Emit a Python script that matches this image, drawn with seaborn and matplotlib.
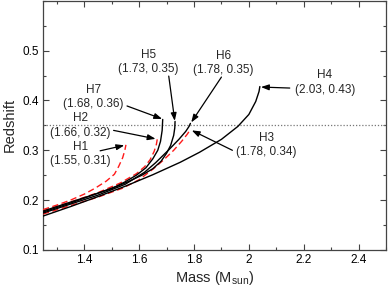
"""
Redshift vs mass for the H1-H7 models, with the end point of each track labelled.
"""
import matplotlib
matplotlib.use("Agg")
import matplotlib.pyplot as plt
import numpy as np
import pandas as pd
import seaborn as sns
from matplotlib.ticker import MultipleLocator

# ── Data (mass in M_sun, redshift) ───────────────────────────────────────
h1_mass = [1.25, 1.30, 1.35, 1.40, 1.44, 1.48, 1.51, 1.525, 1.54, 1.548, 1.552]
h1_z = [0.181, 0.190, 0.200, 0.212, 0.224, 0.238, 0.252, 0.267, 0.285, 0.300, 0.311]

h2_mass = [1.25, 1.35, 1.45, 1.53, 1.59, 1.62, 1.64, 1.655, 1.663, 1.666]
h2_z = [0.178, 0.196, 0.215, 0.234, 0.253, 0.267, 0.281, 0.298, 0.312, 0.322]

h3_mass = [1.25, 1.35, 1.45, 1.54, 1.60, 1.65, 1.69, 1.726, 1.755, 1.775, 1.786]
h3_z = [0.172, 0.189, 0.206, 0.224, 0.241, 0.262, 0.281, 0.300, 0.318, 0.332, 0.341]

h4_mass = [1.25, 1.35, 1.45, 1.55, 1.65, 1.75, 1.82, 1.90, 1.96, 2.00, 2.025, 2.037, 2.04]
h4_z = [0.168, 0.187, 0.207, 0.228, 0.251, 0.276, 0.296, 0.322, 0.348, 0.372, 0.398, 0.418, 0.428]

h5_mass = [1.25, 1.35, 1.45, 1.52, 1.56, 1.61, 1.65, 1.68, 1.70, 1.715, 1.726, 1.730, 1.731]
h5_z = [0.176, 0.194, 0.214, 0.228, 0.237, 0.250, 0.263, 0.278, 0.294, 0.310, 0.330, 0.345, 0.358]

h6_mass = [1.25, 1.35, 1.45, 1.55, 1.62, 1.66, 1.71, 1.745, 1.77, 1.782, 1.787]
h6_z = [0.174, 0.192, 0.210, 0.232, 0.256, 0.275, 0.302, 0.322, 0.338, 0.348, 0.354]

h7_mass = [1.25, 1.35, 1.44, 1.50, 1.55, 1.59, 1.625, 1.65, 1.668, 1.678, 1.684, 1.686]
h7_z = [0.178, 0.196, 0.212, 0.223, 0.237, 0.250, 0.265, 0.283, 0.300, 0.318, 0.340, 0.362]

model_names = ["H1", "H2", "H3", "H4", "H5", "H6", "H7"]
end_labels = ["(1.55, 0.31)", "(1.66, 0.32)", "(1.78, 0.34)", "(2.03, 0.43)",
              "(1.73, 0.35)", "(1.78, 0.35)", "(1.68, 0.36)"]
z_threshold = 0.35

# ── Layout: label centres and arrow tails/heads (data coords) ─────────────
label_pos = {
    "H1": (1.385, 0.292), "H2": (1.385, 0.350), "H3": (2.065, 0.311),
    "H4": (2.277, 0.436), "H5": (1.634, 0.478), "H6": (1.908, 0.476),
    "H7": (1.433, 0.407),
}
arrow_pos = {
    "H1": ((1.458, 0.299), (1.546, 0.310)),
    "H2": ((1.507, 0.340), (1.660, 0.323)),
    "H3": ((1.940, 0.300), (1.792, 0.340)),
    "H4": ((2.149, 0.425), (2.044, 0.427)),
    "H5": ((1.708, 0.449), (1.730, 0.359)),
    "H6": ((1.900, 0.447), (1.790, 0.356)),
    "H7": ((1.556, 0.389), (1.684, 0.363)),
}

sns.set_style("ticks")
plt.rcParams.update({
    "font.family": ["Liberation Sans", "DejaVu Sans"],
    "font.size": 8.5,
    "axes.linewidth": 0.9,
    "axes.edgecolor": "#444444",
    "xtick.color": "#444444",
    "ytick.color": "#444444",
    "xtick.labelcolor": "black",
    "ytick.labelcolor": "black",
})

curves = [
    ("H1", h1_mass, h1_z), ("H2", h2_mass, h2_z), ("H3", h3_mass, h3_z),
    ("H4", h4_mass, h4_z), ("H5", h5_mass, h5_z), ("H6", h6_mass, h6_z),
    ("H7", h7_mass, h7_z),
]
df = pd.concat([
    pd.DataFrame({"model": name, "mass": m, "z": z, "order": np.arange(len(m))})
    for name, m, z in curves
], ignore_index=True)

dashed = {"H1", "H2", "H3"}

fig = plt.figure(figsize=(3.88, 2.93), dpi=100)
ax = fig.add_axes([0.111, 0.147, 0.884, 0.850])

ax.axhline(z_threshold, color="#777777", linestyle=(0, (1, 1.5)), linewidth=0.9, zorder=1)

for name in model_names:
    sub = df[df["model"] == name]
    if name in dashed:
        sns.lineplot(data=sub, x="mass", y="z", sort=False, ax=ax, color="#ff1a1a",
                     linewidth=1.0, linestyle=(0, (4.5, 2.5)), zorder=3)
    else:
        sns.lineplot(data=sub, x="mass", y="z", sort=False, ax=ax, color="black",
                     linewidth=1.0, zorder=4)

for name, lab in zip(model_names, end_labels):
    x, y = label_pos[name]
    ax.text(x, y, f"{name}\n{lab}", ha="center", va="center", multialignment="center",
            fontsize=8.5, linespacing=1.25)
    tail, head = arrow_pos[name]
    ax.annotate("", xy=head, xytext=tail,
                arrowprops=dict(arrowstyle="-|>,head_length=0.55,head_width=0.2",
                                color="black", lw=0.9, shrinkA=0, shrinkB=0))

ax.set_xlim(1.25, 2.5)
ax.set_ylim(0.1, 0.6)
ax.set_xticks([1.4, 1.6, 1.8, 2.0, 2.2, 2.4])
ax.set_xticklabels(["1.4", "1.6", "1.8", "2", "2.2", "2.4"])
ax.set_yticks([0.1, 0.2, 0.3, 0.4, 0.5])
ax.xaxis.set_minor_locator(MultipleLocator(0.1))
ax.yaxis.set_minor_locator(MultipleLocator(0.05))
ax.tick_params(which="both", direction="in", top=True, right=True, labelsize=8.5, pad=3)
ax.tick_params(which="major", length=4, width=0.8)
ax.tick_params(which="minor", length=2.5, width=0.8)

ax.set_xlabel("Mass (M$_{\\mathregular{sun}}$)", fontsize=10.5, labelpad=2)
ax.set_ylabel("Redshift", fontsize=10.5, labelpad=4)

plt.savefig("out.png", dpi=100)
plt.close()
